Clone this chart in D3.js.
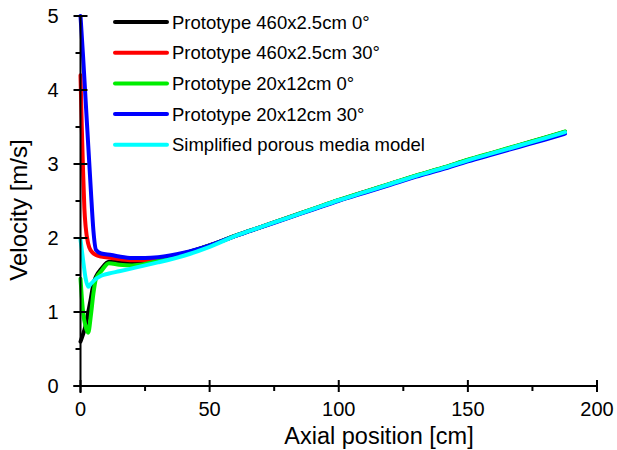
<!DOCTYPE html>
<html><head><meta charset="utf-8">
<script src="https://cdn.jsdelivr.net/npm/d3@7"></script>
<style>body{margin:0;background:#fff;} svg{display:block;font-family:"Liberation Sans",Arial,sans-serif;}</style>
</head><body><svg id="c" width="617" height="450"></svg>
<script>
const seriesNames = ["Prototype 460x2.5cm 0°","Prototype 460x2.5cm 30°","Prototype 20x12cm 0°","Prototype 20x12cm 30°","Simplified porous media model"];
const seriesColors = ["#000000","#ff0000","#00ee00","#0000ff","#00ffff"];
const tailX = [60,70,80,90,100,110,120,130,140,150,160,170,180,187.6];
const tailY = [2.03,2.15,2.27,2.39,2.51,2.62,2.73,2.84,2.94,3.05,3.15,3.25,3.35,3.43];
const blackX = [0,1,2,3,4,5,6,8,11,15,20,25,30,40,50];
const blackY = [0.6,0.7,0.82,1.0,1.18,1.38,1.48,1.58,1.68,1.67,1.66,1.68,1.71,1.79,1.9];
const redX = [0,0.5,1,1.5,2,3,4,6,8,12,16,20,25,30,40,50];
const redY = [4.2,3.5,2.9,2.4,2.15,1.92,1.83,1.77,1.75,1.73,1.71,1.70,1.70,1.72,1.79,1.9];
const greenX = [0,0.5,1,2,3,4,5,6,8,11,15,20,25,30,40,50];
const greenY = [1.45,1.2,1.0,0.8,0.72,0.95,1.25,1.45,1.55,1.66,1.64,1.63,1.65,1.69,1.79,1.9];
const blueX = [0,1,2,3,4,5,6,8,12,15,20,25,30,40,50];
const blueY = [5.0,4.45,3.85,3.25,2.65,2.1,1.84,1.79,1.77,1.75,1.73,1.73,1.74,1.80,1.9];
const cyanX = [0,1,2,3,4,6,8,11,15,20,25,30,40,50];
const cyanY = [1.98,1.7,1.45,1.34,1.38,1.45,1.49,1.52,1.55,1.59,1.63,1.67,1.76,1.88];
const endOffsets = [0.005,0,0.01,-0.02,0];
const xTicks = [0,50,100,150,200];
const xMinor = [25,75,125,175];
const yTicks = [0,1,2,3,4,5];
const yMinor = [0.5,1.5,2.5,3.5,4.5];

const svg = d3.select("#c");
const x = d3.scaleLinear().domain([0,200]).range([80.5,597]);
const y = d3.scaleLinear().domain([0,5]).range([386,16]);

function build(xs, ys, off){
  const pts = xs.map((v,i)=>[v, ys[i]]);
  tailX.forEach((v,i)=>{ const f=(v-50)/137.6; pts.push([v, tailY[i] + off*f]); });
  return pts;
}
const data = [build(blackX,blackY,endOffsets[0]), build(redX,redY,endOffsets[1]), build(greenX,greenY,endOffsets[2]), build(blueX,blueY,endOffsets[3]), build(cyanX,cyanY,endOffsets[4])];

const line = d3.line().x(d=>x(d[0])).y(d=>y(d[1])).curve(d3.curveMonotoneX);
data.forEach((d,i)=>{
  svg.append("path").attr("d", line(d)).attr("fill","none").attr("stroke",seriesColors[i])
    .attr("stroke-width",4).attr("stroke-linejoin","round").attr("stroke-linecap","round");
});

// axes
const ax = svg.append("g").attr("stroke","#000").attr("stroke-width",2);
ax.append("line").attr("x1",x(0)-7).attr("x2",x(200)).attr("y1",y(0)).attr("y2",y(0));
ax.append("line").attr("x1",x(0)).attr("x2",x(0)).attr("y1",y(0)+7).attr("y2",y(5));
xTicks.forEach(t=>ax.append("line").attr("x1",x(t)).attr("x2",x(t)).attr("y1",y(0)-6).attr("y2",y(0)+6));
xMinor.forEach(t=>ax.append("line").attr("x1",x(t)).attr("x2",x(t)).attr("y1",y(0)).attr("y2",y(0)+5));
yTicks.forEach(t=>ax.append("line").attr("x1",x(0)-7).attr("x2",x(0)+7).attr("y1",y(t)).attr("y2",y(t)));
yMinor.forEach(t=>ax.append("line").attr("x1",x(0)-5).attr("x2",x(0)).attr("y1",y(t)).attr("y2",y(t)));

svg.selectAll(".xl").data(xTicks).enter().append("text").attr("x",d=>x(d)).attr("y",y(0)+30)
  .attr("text-anchor","middle").attr("font-size",20).attr("fill","#000").text(d=>d);
svg.selectAll(".yl").data(yTicks).enter().append("text").attr("x",x(0)-22).attr("y",d=>y(d)+7)
  .attr("text-anchor","end").attr("font-size",20).attr("fill","#000").text(d=>d);
svg.append("text").attr("x",379).attr("y",444).attr("text-anchor","middle").attr("font-size",23.5).text("Axial position [cm]");
svg.append("text").attr("transform","translate(27,210) rotate(-90)").attr("text-anchor","middle").attr("font-size",24).text("Velocity [m/s]");

// legend
seriesNames.forEach((n,i)=>{
  const ly = 22 + i*30.7;
  svg.append("line").attr("x1",115).attr("x2",167).attr("y1",ly).attr("y2",ly).attr("stroke",seriesColors[i]).attr("stroke-width",4).attr("stroke-linecap","round");
  svg.append("text").attr("x",172).attr("y",ly+6.5).attr("font-size",18.5).attr("fill","#000").text(n);
});
</script></body></html>
